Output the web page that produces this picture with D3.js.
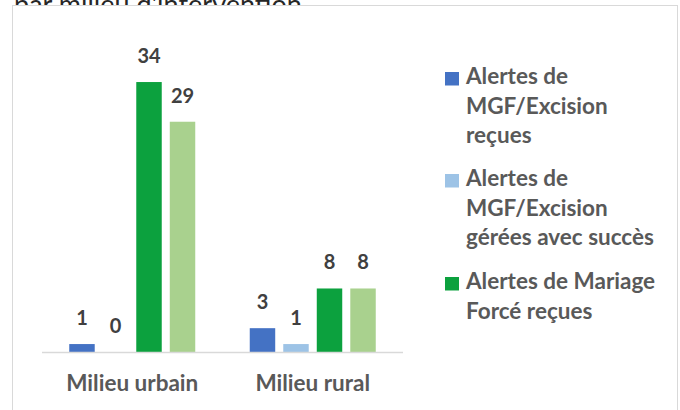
<!DOCTYPE html>
<html>
<head>
<meta charset="utf-8">
<script src="https://cdn.jsdelivr.net/npm/d3@7"></script>
<style>
  body { margin: 0; background: #fff; }
  svg { display: block; }
  text { font-family: Lato, "Open Sans", sans-serif; }
</style>
</head>
<body>
<script>
// chart data
var categories = ["Milieu urbain", "Milieu rural"];
var seriesNames = [
  "Alertes de MGF/Excision reçues",
  "Alertes de MGF/Excision gérées avec succès",
  "Alertes de Mariage Forcé reçues",
  "Alertes de Mariage Forcé gérées avec succès"
];
var seriesColors = ["#4472c4", "#9dc3e6", "#0ca13e", "#a9d18e"];
var urbanValues = [1, 0, 34, 29];
var ruralValues = [3, 1, 8, 8];
// legend lines, as wrapped in the picture (only 3 entries visible)
var legendLines = [
  ["Alertes de", "MGF/Excision", "reçues"],
  ["Alertes de", "MGF/Excision", "gérées avec succès"],
  ["Alertes de Mariage", "Forcé reçues"]
];

var values = [urbanValues, ruralValues];

var W = 680, H = 410;
var svg = d3.select("body").append("svg")
  .attr("width", W)
  .attr("height", H);

// title, mostly hidden behind the chart box
svg.append("text")
  .attr("x", 14)
  .attr("y", 14)
  .attr("fill", "#262626")
  .style("font-size", "27px")
  .text("par milieu d'intervention");

// chart box
svg.append("rect")
  .attr("x", 12.5)
  .attr("y", 5.5)
  .attr("width", 665)
  .attr("height", 420)
  .attr("fill", "#fff")
  .attr("stroke", "#d9d9d9")
  .attr("stroke-width", 1);

var x0 = d3.scaleBand()
  .domain(categories)
  .range([42, 403])
  .paddingInner(0)
  .paddingOuter(0);

var x1 = d3.scaleBand()
  .domain(d3.range(seriesNames.length))
  .range([0, 126])
  .paddingInner(0.24)
  .paddingOuter(0);

var y = d3.scaleLinear()
  .domain([0, 40])
  .range([352, 352 - 40 * 7.94]);

var groups = svg.selectAll("g.cat")
  .data(categories)
  .enter()
  .append("g")
  .attr("class", "cat")
  .attr("transform", function(d) {
    return "translate(" + (x0(d) + (x0.bandwidth() - 126) / 2) + ",0)";
  });

groups.selectAll("rect")
  .data(function(d, i) { return values[i]; })
  .enter()
  .append("rect")
  .attr("x", function(d, i) { return x1(i); })
  .attr("y", function(d) { return y(d); })
  .attr("width", x1.bandwidth())
  .attr("height", function(d) { return y(0) - y(d); })
  .attr("fill", function(d, i) { return seriesColors[i]; });

groups.selectAll("text.val")
  .data(function(d, i) { return values[i]; })
  .enter()
  .append("text")
  .attr("class", "val")
  .attr("x", function(d, i) { return x1(i) + x1.bandwidth() / 2; })
  .attr("y", function(d) { return y(d) - 19; })
  .attr("text-anchor", "middle")
  .attr("fill", "#404040")
  .style("font-size", "20px")
  .style("font-weight", "bold")
  .text(function(d) { return d; });

// baseline
svg.append("line")
  .attr("x1", 42)
  .attr("x2", 403)
  .attr("y1", 352.5)
  .attr("y2", 352.5)
  .attr("stroke", "#d9d9d9")
  .attr("stroke-width", 1.5);

// category labels
svg.selectAll("text.cat")
  .data(categories)
  .enter()
  .append("text")
  .attr("class", "cat")
  .attr("x", function(d) { return x0(d) + x0.bandwidth() / 2; })
  .attr("y", 390.5)
  .attr("text-anchor", "middle")
  .attr("fill", "#595959")
  .style("font-size", "22.5px")
  .style("font-weight", "bold")
  .text(function(d) { return d; });

// legend
var legendTop = [72, 174, 277];
var legend = svg.selectAll("g.leg")
  .data(legendLines)
  .enter()
  .append("g")
  .attr("class", "leg")
  .attr("transform", function(d, i) { return "translate(445," + legendTop[i] + ")"; });

legend.append("rect")
  .attr("width", 14)
  .attr("height", 13.5)
  .attr("fill", function(d, i) { return seriesColors[i]; });

legend.selectAll("text")
  .data(function(d) { return d; })
  .enter()
  .append("text")
  .attr("x", 21)
  .attr("y", function(d, i) { return 12 + i * 29.5; })
  .attr("fill", "#595959")
  .style("font-size", "22.5px")
  .style("font-weight", "bold")
  .text(function(d) { return d; });
</script>
</body>
</html>
